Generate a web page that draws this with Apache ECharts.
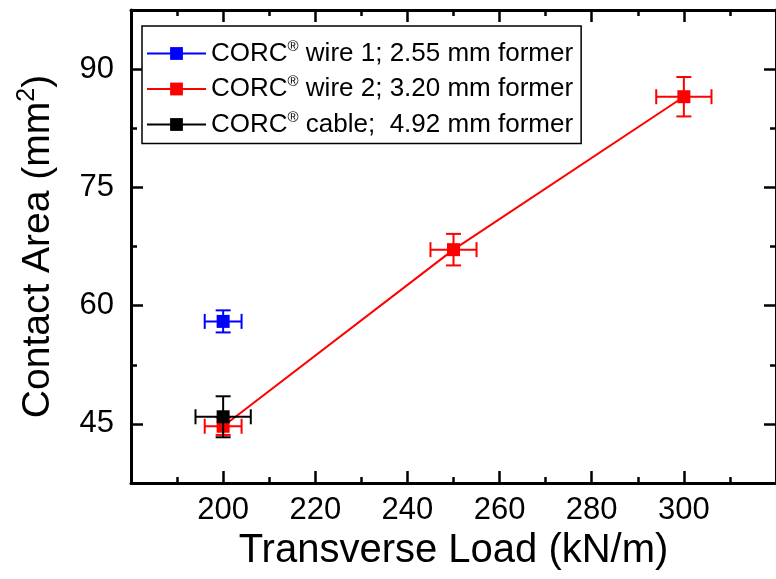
<!DOCTYPE html>
<html>
<head>
<meta charset="utf-8">
<script src="https://cdn.jsdelivr.net/npm/echarts@6/dist/echarts.min.js"></script>
<style>
html,body{margin:0;padding:0;background:#fff;}
#chart{width:776px;height:579px;}
</style>
</head>
<body>
<div id="chart"></div>
<script>
// ---- data ----
const xTickLabels = [200, 220, 240, 260, 280, 300];
const yTickLabels = [45, 60, 75, 90];

const wire1Load = [200];
const wire1Area = [58.0];
const wire1XErr = [4];
const wire1YErr = [1.4];

const wire2Load = [200, 250, 300];
const wire2Area = [44.7, 67.1, 86.5];
const wire2XErr = [4, 5, 6];
const wire2YErr = [1.1, 2.0, 2.5];

const cableLoad = [200];
const cableArea = [45.9];
const cableXErr = [6];
const cableYErr = [2.6];

const names = [
  'CORC® wire 1; 2.55 mm former',
  'CORC® wire 2; 3.20 mm former',
  'CORC® cable;  4.92 mm former'
];
const colors = ['#0000ff', '#ff0000', '#000000'];

function pts(xs, ys) { return xs.map((x, i) => [x, ys[i]]); }
function errData(xs, ys, xe, ye) { return xs.map((x, i) => [x, ys[i], xe[i], ye[i]]); }

function errSeries(id, color, data, z) {
  return {
    type: 'custom',
    name: id,
    xAxisIndex: 0, yAxisIndex: 0,
    z: z,
    silent: true,
    data: data,
    itemStyle: { color: color },
    encode: { x: 0, y: 1 },
    renderItem: function (params, api) {
      const x = api.value(0), y = api.value(1), xe = api.value(2), ye = api.value(3);
      const L = api.coord([x - xe, y]);
      const R = api.coord([x + xe, y]);
      const T = api.coord([x, y + ye]);
      const B = api.coord([x, y - ye]);
      const cap = 7.5;
      const st = { stroke: color, lineWidth: 2, fill: null };
      return {
        type: 'group',
        children: [
          { type: 'line', shape: { x1: L[0], y1: L[1], x2: R[0], y2: R[1] }, style: st },
          { type: 'line', shape: { x1: L[0], y1: L[1] - cap, x2: L[0], y2: L[1] + cap }, style: st },
          { type: 'line', shape: { x1: R[0], y1: R[1] - cap, x2: R[0], y2: R[1] + cap }, style: st },
          { type: 'line', shape: { x1: T[0], y1: T[1], x2: B[0], y2: B[1] }, style: st },
          { type: 'line', shape: { x1: T[0] - cap, y1: T[1], x2: T[0] + cap, y2: T[1] }, style: st },
          { type: 'line', shape: { x1: B[0] - cap, y1: B[1], x2: B[0] + cap, y2: B[1] }, style: st }
        ]
      };
    }
  };
}

const FONT = "'Liberation Sans', Arial, sans-serif";
const axisLineStyle = { color: '#000', width: 3 };

function xAxisDef(pos, showLabels) {
  return {
    type: 'value', position: pos, min: 180, max: 320, interval: 20,
    axisLine: { show: true, onZero: false, lineStyle: axisLineStyle },
    axisTick: { show: true, inside: true, length: 12, lineStyle: { color: '#000', width: 2.5 } },
    minorTick: { show: true, splitNumber: 2, length: 6, lineStyle: { color: '#000', width: 2.5 } },
    axisLabel: showLabels ? { show: true, customValues: xTickLabels, fontSize: 31, color: '#000', fontFamily: FONT, margin: 12 } : { show: false },
    splitLine: { show: false },
    name: showLabels ? 'Transverse Load (kN/m)' : '',
    nameLocation: 'middle', nameGap: 48,
    nameTextStyle: { fontSize: 40, color: '#000', fontFamily: FONT }
  };
}
function yMajor(pos, showLabels) {
  return {
    type: 'value', position: pos, min: 37.5, max: 97.5,
    axisLine: { show: true, onZero: false, lineStyle: axisLineStyle },
    axisTick: { show: true, inside: true, length: 12, customValues: yTickLabels, lineStyle: { color: '#000', width: 2.5 } },
    axisLabel: showLabels ? { show: true, customValues: yTickLabels, fontSize: 31, color: '#000', fontFamily: FONT, margin: 17 } : { show: false },
    splitLine: { show: false },
    name: showLabels ? '{a|Contact Area (mm}{s|2}{a|)}' : '',
    nameLocation: 'middle', nameGap: 70,
    nameTextStyle: {
      color: '#000', fontFamily: FONT,
      rich: {
        a: { fontSize: 39, fontFamily: FONT, color: '#000', lineHeight: 46 },
        s: { fontSize: 25, fontFamily: FONT, color: '#000', verticalAlign: 'top', lineHeight: 46, padding: [0, 0, 14, 0] }
      }
    }
  };
}
function yMinor(pos) {
  return {
    type: 'value', position: pos, min: 37.5, max: 97.5, interval: 7.5,
    axisLine: { show: false },
    axisTick: { show: true, inside: true, length: 6, lineStyle: { color: '#000', width: 2.5 } },
    axisLabel: { show: false },
    splitLine: { show: false }
  };
}

function legendName(n) {
  const i = n.indexOf('®');
  return '{a|' + n.slice(0, i) + '}{s|®}{a|' + n.slice(i + 1) + '}';
}

const option = {
  backgroundColor: '#fff',
  animation: false,
  grid: { left: 131, top: 10, right: -5, bottom: 96, containLabel: false },
  xAxis: [xAxisDef('bottom', true), xAxisDef('top', false)],
  yAxis: [yMajor('left', true), yMinor('left'), yMajor('right', false), yMinor('right')],
  legend: {
    orient: 'vertical', left: 142, top: 26,
    backgroundColor: '#fff', borderColor: '#000', borderWidth: 1.5, borderRadius: 0,
    padding: [13, 8, 6, 4],
    itemWidth: 59, itemHeight: 16, itemGap: 8,
    data: names,
    formatter: legendName,
    textStyle: {
      color: '#000', fontFamily: FONT,
      rich: {
        a: { fontSize: 26, fontFamily: FONT, color: '#000', lineHeight: 29 },
        s: { fontSize: 15, fontFamily: FONT, color: '#000', verticalAlign: 'top', lineHeight: 29, padding: [0, 0, 8, 0] }
      }
    }
  },
  series: [
    errSeries('err2', colors[1], errData(wire2Load, wire2Area, wire2XErr, wire2YErr), 2),
    {
      type: 'line', name: names[1], data: pts(wire2Load, wire2Area),
      xAxisIndex: 0, yAxisIndex: 0, z: 3,
      symbol: 'rect', symbolSize: 13, color: colors[1],
      lineStyle: { color: colors[1], width: 2 }, itemStyle: { color: colors[1] }
    },
    errSeries('err1', colors[0], errData(wire1Load, wire1Area, wire1XErr, wire1YErr), 4),
    {
      type: 'line', name: names[0], data: pts(wire1Load, wire1Area),
      xAxisIndex: 0, yAxisIndex: 0, z: 5,
      symbol: 'rect', symbolSize: 13, color: colors[0],
      lineStyle: { color: colors[0], width: 2 }, itemStyle: { color: colors[0] }
    },
    errSeries('err3', colors[2], errData(cableLoad, cableArea, cableXErr, cableYErr), 6),
    {
      type: 'line', name: names[2], data: pts(cableLoad, cableArea),
      xAxisIndex: 0, yAxisIndex: 0, z: 7,
      symbol: 'rect', symbolSize: 13, color: colors[2],
      lineStyle: { color: colors[2], width: 2 }, itemStyle: { color: colors[2] }
    }
  ]
};

const chart = echarts.init(document.getElementById('chart'), null, { renderer: 'canvas' });
chart.setOption(option);
</script>
</body>
</html>
